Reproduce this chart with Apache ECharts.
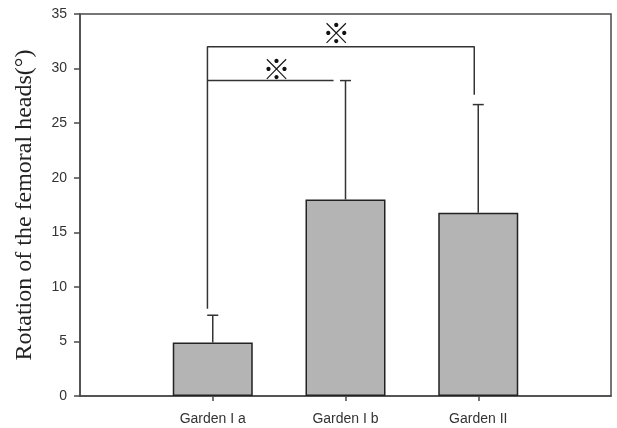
<!DOCTYPE html>
<html>
<head>
<meta charset="utf-8">
<script src="https://cdn.jsdelivr.net/npm/echarts@6/dist/echarts.min.js"></script>
<style>
html,body{margin:0;padding:0;background:#fff;}
#chart{width:617px;height:428px;}
</style>
</head>
<body>
<div id="chart"></div>
<script>
// Data
const categories = ['', 'Garden I a', 'Garden I b', 'Garden II', ''];
const means = ['-', 4.9, 18.0, 16.8, '-'];
const errorUpper = [null, 7.4, 28.9, 26.7, null];
const yTicks = [0, 5, 10, 15, 20, 25, 30, 35];
// significance brackets (x in category-index units, y in degrees)
const sigUpperLine = [[0.96, 8.0], [0.96, 32.0], [2.97, 32.0], [2.97, 27.6]];
const sigLowerLine = [[0.96, 28.9], [1.91, 28.9]];
const sigMarks = [[1.48, 29.9], [1.93, 33.2]];
const yAxisName = 'Rotation of the femoral heads(°)';

const errData = [];
for (let i = 0; i < categories.length; i++) {
  if (errorUpper[i] != null) errData.push([i, means[i], errorUpper[i]]);
}

const chart = echarts.init(document.getElementById('chart'), null, {renderer: 'canvas'});
chart.setOption({
  animation: false,
  backgroundColor: '#fff',
  grid: {left: 80, top: 14, width: 531, height: 382, show: true, borderColor: '#4a4a4a', borderWidth: 1.5, backgroundColor: 'transparent'},
  xAxis: [{
    type: 'category',
    data: categories,
    boundaryGap: false,
    axisLine: {lineStyle: {color: '#4a4a4a', width: 1.5}},
    axisTick: {length: 5, lineStyle: {color: '#4a4a4a', width: 1.5}, interval: function (i) { return i > 0 && i < categories.length - 1; }},
    axisLabel: {color: '#333', fontFamily: 'Liberation Sans', fontSize: 14, margin: 16, interval: 0},
    splitLine: {show: false}
  }, {
    type: 'value', min: 0, max: categories.length - 1, show: false
  }],
  yAxis: {
    type: 'value', min: yTicks[0], max: yTicks[yTicks.length - 1], interval: 5,
    name: yAxisName,
    nameLocation: 'middle',
    nameGap: 43,
    nameTextStyle: {fontFamily: 'Liberation Serif', fontSize: 24, color: '#222'},
    axisLine: {show: true, lineStyle: {color: '#4a4a4a', width: 1.5}},
    axisTick: {show: true, length: 6, lineStyle: {color: '#4a4a4a', width: 1.5}},
    axisLabel: {color: '#333', fontFamily: 'Liberation Sans', fontSize: 14, margin: 13},
    splitLine: {show: false}
  },
  series: [{
    type: 'bar',
    data: means,
    barWidth: 80,
    itemStyle: {color: '#b4b4b4', borderColor: '#222', borderWidth: 1.5}
  }, {
    type: 'custom',
    data: errData,
    renderItem: function (params, api) {
      const x = api.value(0);
      const top = api.coord([x, api.value(2)]);
      const base = api.coord([x, api.value(1)]);
      const half = 5.5;
      return {
        type: 'group',
        children: [
          {type: 'line', shape: {x1: top[0], y1: top[1], x2: base[0], y2: base[1]}, style: {stroke: '#333', lineWidth: 1.5}},
          {type: 'line', shape: {x1: top[0] - half, y1: top[1], x2: top[0] + half, y2: top[1]}, style: {stroke: '#333', lineWidth: 1.5}}
        ]
      };
    },
    z: 3
  }, {
    type: 'line', xAxisIndex: 1, data: sigUpperLine, symbol: 'none',
    lineStyle: {color: '#333', width: 1.5}, z: 3
  }, {
    type: 'line', xAxisIndex: 1, data: sigLowerLine, symbol: 'none',
    lineStyle: {color: '#333', width: 1.5}, z: 3
  }, {
    type: 'custom', xAxisIndex: 1, data: sigMarks,
    renderItem: function (params, api) {
      const p = api.coord([api.value(0), api.value(1)]);
      return {type: 'text', x: p[0], y: p[1], style: {text: '※', fill: '#111', font: 'bold 28px "Noto Sans CJK SC"', textAlign: 'center', textVerticalAlign: 'middle'}};
    },
    z: 4
  }]
});
</script>
</body>
</html>
